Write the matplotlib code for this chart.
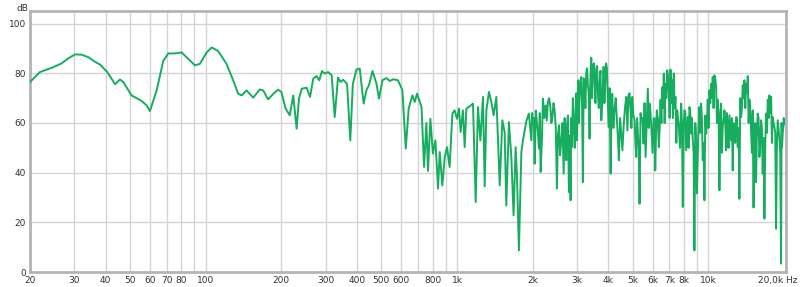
import matplotlib
matplotlib.use("Agg")
import matplotlib.pyplot as plt
import matplotlib.transforms as mtransforms
from matplotlib.ticker import FixedLocator, NullLocator

# Frequency response (Hz, dB)
freq_low = [20, 21.9, 23.3, 24.8, 26.7, 28.4, 30.2, 32.1, 34.1, 36.3, 38, 40.6,
            43.6, 45.6, 47, 50.7, 55.6, 58.2, 60, 63.8, 67.8, 71, 75.4, 80.2,
            85.2, 90.6, 94.8, 100.9, 105.6, 112, 121, 128.7, 134.6, 139, 145.4,
            154.6, 164, 169.4, 177]
db_low = [76.5, 80.5, 81.5, 82.5, 84, 86, 87.6, 87.5, 86.5, 84.6, 83.5, 80.5,
          75.6, 77.5, 76.5, 71.1, 68.9, 67.1, 64.8, 73.1, 85, 88, 88, 88.4,
          85.8, 83.2, 83.8, 88.4, 90.4, 89, 83.8, 77.1, 71.8, 71.1, 73.1,
          70.2, 73.5, 73.1, 69.5]

freq_mid = [186, 194, 200, 208, 216, 223, 230, 235, 241, 252, 260, 268, 276,
            283, 290, 298, 307, 317, 326, 336, 344, 352, 365, 376, 385, 398,
            410, 425, 436, 446, 461, 478, 489, 505, 524, 540, 557, 582, 606,
            625, 642, 664, 679, 693, 722, 739, 755, 766, 783, 801, 820, 840,
            853, 874, 893, 912, 934, 958, 978, 1000, 1018, 1033, 1055, 1072,
            1089, 1122, 1157, 1186, 1211, 1238, 1268, 1288, 1308, 1339, 1369,
            1398, 1433, 1478, 1514, 1546, 1570, 1608, 1644, 1678, 1710, 1730,
            1762, 1802, 1828, 1886, 1931]
db_mid = [71.8, 73.4, 72.5, 65.8, 63.1, 71.1, 57.7, 69.8, 73.8, 74.2, 70.5,
          77.9, 78.9, 77.2, 80.9, 79.9, 80.5, 79.2, 62.4, 78.3, 76.5, 77.4,
          75.8, 53, 75.8, 81.5, 81.9, 67.8, 73.2, 75.2, 80.9, 75.8, 69.8,
          77.2, 78.1, 76.9, 77.6, 77.2, 73.2, 49.7, 65.8, 71.1, 68.5, 71.8,
          66.4, 42.3, 60, 40.7, 61.7, 47.7, 53, 33.6, 48.3, 34.9, 46.3, 50.3,
          42.3, 63.8, 65.1, 61.7, 65.8, 56.4, 65.1, 50.3, 65.8, 66.7, 67.8,
          28.2, 66.4, 53, 70.5, 34.5, 65.1, 72.5, 68.5, 63.1, 70.5, 34.9,
          61.1, 56.4, 26.8, 60.4, 46.3, 22.8, 50.3, 39.6, 8.7, 48.3, 53,
          60.7, 63.8]

freq_high = [1975, 2004, 2035, 2078, 2116, 2150, 2196, 2250, 2298, 2350, 2394,
             2444, 2496, 2542, 2598, 2655, 2703, 2735, 2786, 2829, 2862, 2915,
             2962, 3000, 3036, 3072, 3120, 3166, 3215, 3266, 3315, 3366, 3419,
             3471, 3525, 3580, 3634, 3693, 3748, 3827, 3887, 3945, 4007, 4081,
             4143, 4230, 4325, 4403, 4500, 4597, 4711, 4808, 4900, 4977, 5083,
             5163, 5240, 5321, 5418, 5518, 5623, 5739, 5830, 5940, 6050, 6143,
             6233, 6347, 6449, 6553, 6643, 6747, 6853, 6955, 7064, 7175, 7280,
             7394, 7511, 7626, 7789, 7905, 8029, 8155, 8272, 8405, 8536, 8665,
             8795, 8934, 9066, 9208, 9350, 9491, 9640, 9792, 9936, 10090,
             10250, 10400, 10560, 10730, 10890, 11060, 11230, 11400, 11580,
             11760, 11930, 12120, 12310, 12490, 12690, 12890, 13080, 13280,
             13490, 13690, 13900, 14130, 14340, 14560, 14780, 15000, 15230,
             15470, 15700, 15950, 16200, 16440, 16700, 16960, 17220, 17480,
             17760, 18020, 18300, 18580, 18860, 19150, 19450, 19630, 19870,
             20000]
db_high = [53, 59.7, 43.6, 60.4, 49.7, 40.3, 69.8, 67.1, 68.5, 66.4, 62.4,
           65.1, 33.6, 59.1, 53, 39.6, 50.3, 58.4, 32.2, 28.9, 50.3, 58.4,
           65.1, 53, 77.2, 70.5, 78.5, 36.2, 75.8, 80.5, 75.2, 53.7, 86.3,
           81.2, 77.2, 81.9, 71.8, 76.5, 61.1, 82.6, 77.2, 82.1, 58.4, 39.6,
           71.8, 65.1, 61.1, 45, 55.7, 58.4, 70.5, 71.1, 65.1, 70.5, 61.1,
           46.3, 55.7, 27.5, 61.1, 51.7, 46.3, 73.8, 67.8, 55.7, 61.7, 40.9,
           65.1, 50.3, 69.4, 74.5, 79.9, 75.8, 81.2, 71.8, 81.5, 77.2, 79.9,
           70.5, 65.1, 58.4, 67.8, 26.2, 65.1, 49, 62.4, 66.4, 55.7, 53,
           8.7, 53, 46.3, 66.4, 67.8, 45, 28.9, 55.7, 69.4, 73.2,
           75.8, 78.5, 79.2, 74.5, 69.4, 32.9, 67.8, 58.4, 65.1,
           49, 58.4, 63.1, 53, 40.9, 58.4, 62.4, 50.3, 29.5,
           62.4, 75.2, 77.2, 75.8, 78.9, 69.4, 57.1, 65.1, 53,
           36.2, 63.8, 46.3, 61.1, 39.6, 21.5, 63.8, 69.4, 71.1,
           70.5, 62.4, 58.4, 17.4, 61.1, 54.4, 3.4, 50.3, 58.4,
           59.7]

# in-between readings of the dense band above 2 kHz
freq_fill = [1990, 2020, 2056, 2097, 2133, 2173, 2223, 2274, 2324, 2372, 2419,
             2470, 2519, 2570, 2626, 2679, 2719, 2760, 2807, 2845, 2888, 2938,
             2981, 3018, 3054, 3096, 3143, 3190, 3240, 3290, 3340, 3392, 3445,
             3498, 3552, 3607, 3663, 3720, 3787, 3857, 3916, 3976, 4044, 4112,
             4186, 4277, 4364, 4451, 4548, 4654, 4760, 4854, 4938, 5030, 5123,
             5201, 5280, 5370, 5468, 5570, 5681, 5784, 5885, 5995, 6096, 6188,
             6290, 6398, 6501, 6598, 6695, 6800, 6904, 7010, 7120, 7227, 7337,
             7452, 7568, 7707, 7847, 7967, 8092, 8213, 8338, 8470, 8600, 8730,
             8864, 9000, 9137, 9279, 9420, 9565, 9716, 9864, 10010, 10170,
             10325, 10480, 10645, 10810, 10975, 11145, 11315, 11490, 11670,
             11845, 12025, 12215, 12400, 12590, 12790, 12985, 13180, 13385,
             13590, 13795, 14015, 14235, 14450, 14670, 14890, 15115, 15350,
             15585, 15825, 16075, 16320, 16570, 16830, 17090, 17350, 17620,
             17890, 18160, 18440, 18720, 19000, 19300, 19540, 19750, 19935]
db_fill = [64, 62, 65, 56, 64, 52, 62, 61, 70, 60, 68, 58, 55, 47, 60, 62, 45,
           63, 55, 62, 70, 50, 72, 68, 60, 76, 66, 78, 66, 82, 72, 78, 70, 84,
           68, 83, 66, 81, 70, 68, 84, 70, 74, 62, 58, 70, 54, 62, 49, 66, 57,
           72, 58, 63, 52, 62, 50, 64, 62, 68, 60, 58, 64, 48, 62, 56, 62, 58,
           60, 66, 60, 70, 79, 62, 68, 62, 66, 52, 62, 50, 60, 58, 64, 56, 50,
           64, 62, 48, 60, 31.7, 58, 56, 62, 52, 63, 60, 58, 68, 70, 66, 78,
           60, 64, 62, 48, 61, 60, 64, 50, 58, 62, 60, 52, 62, 58, 70, 66, 70,
           66, 72, 60, 64, 48, 26, 60, 55, 62, 52, 58, 54, 52, 56, 62, 64, 52,
           60, 56, 50, 58, 48, 60, 56, 62]

points = sorted(zip(freq_low + freq_mid + freq_high + freq_fill,
                    db_low + db_mid + db_high + db_fill))
freq = [p[0] for p in points]
level = [p[1] for p in points]

x_ticks = [20, 30, 40, 50, 60, 70, 80, 100, 200, 300, 400, 500, 600, 800,
           1000, 2000, 3000, 4000, 5000, 6000, 7000, 8000, 10000, 20000]
x_labels = ["20", "30", "40", "50", "60", "70", "80", "100", "200", "300",
            "400", "500", "600", "800", "1k", "2k", "3k", "4k", "5k", "6k",
            "7k", "8k", "10k", "20,0k Hz"]
x_grid = [20, 30, 40, 50, 60, 70, 80, 90, 100, 200, 300, 400, 500, 600, 700,
          800, 900, 1000, 2000, 3000, 4000, 5000, 6000, 7000, 8000, 9000, 10000]
y_ticks = [0, 20, 40, 60, 80, 100]

fig = plt.figure(figsize=(8, 2.87), dpi=100)
ax = fig.add_axes([0.0375, 0.052, 0.945, 0.909])

ax.plot(freq, level, color="#17ad5f", linewidth=1.4, zorder=3)

ax.set_xscale("log")
ax.set_xlim(20, 20350)
ax.set_ylim(0, 105)

for f in x_grid:
    ax.axvline(f, color="#d4d4d4", linewidth=1, zorder=1)
for v in y_ticks[1:]:
    ax.axhline(v, color="#d4d4d4", linewidth=1, zorder=1)

ax.xaxis.set_major_locator(FixedLocator(x_ticks))
ax.xaxis.set_minor_locator(NullLocator())
ax.set_xticklabels(x_labels)
ax.set_yticks(y_ticks)
ax.tick_params(length=0, labelsize=6.5, labelcolor="#333333", pad=3)

# last label sits to the right of its tick, like the original
last = ax.get_xticklabels()[-1]
last.set_horizontalalignment("right")
last.set_transform(last.get_transform() +
                   mtransforms.ScaledTranslation(0.13, 0, fig.dpi_scale_trans))

for s in ax.spines.values():
    s.set_color("#b4b4b4")
    s.set_linewidth(2)

fig.text(0.021, 0.985, "dB", fontsize=6.5, color="#333333", ha="left", va="top")

fig.savefig("out.png", dpi=100, facecolor="white")
